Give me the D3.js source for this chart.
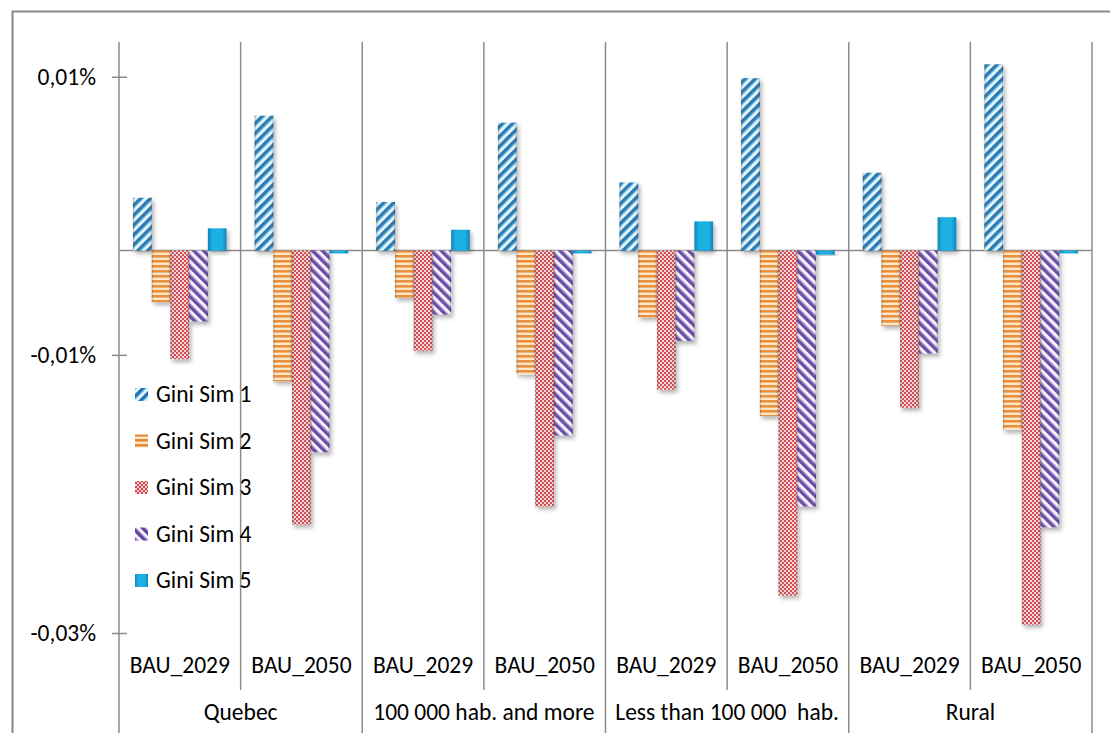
<!DOCTYPE html>
<html>
<head>
<meta charset="utf-8">
<script src="https://cdn.jsdelivr.net/npm/d3@7"></script>
<style>
  body { margin: 0; background: #fff; }
  text { font-family: Calibri, Carlito, Lato, sans-serif; fill: #000; }
</style>
</head>
<body>
<div id="chart"></div>
<script>
// data (values are in percent units, 0.01 = 0,01%)
var groups = ["Quebec", "100 000 hab. and more", "Less than 100 000  hab.", "Rural"];
var scenarios = ["BAU_2029", "BAU_2050"];
var series = ["Gini Sim 1", "Gini Sim 2", "Gini Sim 3", "Gini Sim 4", "Gini Sim 5"];

var sim1 = [0.0038, 0.0097, 0.0035, 0.0092, 0.0049, 0.0124, 0.0056, 0.0134];
var sim2 = [-0.0037, -0.0094, -0.0034, -0.0089, -0.0048, -0.0119, -0.0054, -0.0129];
var sim3 = [-0.0078, -0.0197, -0.0072, -0.0184, -0.0100, -0.0248, -0.0113, -0.0269];
var sim4 = [-0.0051, -0.0145, -0.0046, -0.0133, -0.0065, -0.0184, -0.0074, -0.0199];
var sim5 = [0.0016, -0.0002, 0.0015, -0.0002, 0.0021, -0.0003, 0.0024, -0.0002];

var tickValues = [0.0125, -0.0075, -0.0275];
var tickLabels = ["0,01%", "-0,01%", "-0,03%"];

var allSims = [sim1, sim2, sim3, sim4, sim5];

var width = 1110, height = 733;
var plotLeft = 119, plotRight = 1092, plotTop = 42, plotBottom = 633;
var fontSize = "23.5px";

var svg = d3.select("#chart")
  .append("svg")
  .attr("width", width)
  .attr("height", height);

var defs = svg.append("defs");

// stripes "/" for sim 1
var p1 = defs.append("pattern")
  .attr("id", "pat1")
  .attr("patternUnits", "userSpaceOnUse")
  .attr("width", 7).attr("height", 7)
  .attr("patternTransform", "rotate(45)");
p1.append("rect").attr("width", 7).attr("height", 7).attr("fill", "#e6f7fd");
p1.append("rect").attr("x", 0).attr("width", 3).attr("height", 7).attr("fill", "#2572aa");
p1.append("rect").attr("x", 3).attr("width", 1.2).attr("height", 7).attr("fill", "#5ab8e4");

// horizontal stripes for sim 2
var p2 = defs.append("pattern")
  .attr("id", "pat2")
  .attr("patternUnits", "userSpaceOnUse")
  .attr("width", 6).attr("height", 5);
p2.append("rect").attr("width", 6).attr("height", 5).attr("fill", "#fde6c6");
p2.append("rect").attr("y", 0).attr("width", 6).attr("height", 2.6).attr("fill", "#e88a35");

// checker for sim 3
var p3 = defs.append("pattern")
  .attr("id", "pat3")
  .attr("patternUnits", "userSpaceOnUse")
  .attr("width", 4).attr("height", 4);
p3.append("rect").attr("width", 4).attr("height", 4).attr("fill", "#f7d2d3");
p3.append("rect").attr("width", 2).attr("height", 2).attr("fill", "#cf4650");
p3.append("rect").attr("x", 2).attr("y", 2).attr("width", 2).attr("height", 2).attr("fill", "#cf4650");

// stripes "\" for sim 4
var p4 = defs.append("pattern")
  .attr("id", "pat4")
  .attr("patternUnits", "userSpaceOnUse")
  .attr("width", 7).attr("height", 7)
  .attr("patternTransform", "rotate(-45)");
p4.append("rect").attr("width", 7).attr("height", 7).attr("fill", "#f8f4fd");
p4.append("rect").attr("x", 0).attr("width", 3).attr("height", 7).attr("fill", "#6246a0");
p4.append("rect").attr("x", 3).attr("width", 1.2).attr("height", 7).attr("fill", "#a890d4");

// solid cyan with bevel for sim 5
var g5 = defs.append("linearGradient")
  .attr("id", "pat5")
  .attr("x1", "0").attr("x2", "1").attr("y1", "0").attr("y2", "0");
g5.append("stop").attr("offset", "0%").attr("stop-color", "#0f86b8");
g5.append("stop").attr("offset", "25%").attr("stop-color", "#1fb0e3");
g5.append("stop").attr("offset", "75%").attr("stop-color", "#1fb0e3");
g5.append("stop").attr("offset", "100%").attr("stop-color", "#0f86b8");

// bevel overlay on patterned bars
var bevel = defs.append("linearGradient")
  .attr("id", "bevel")
  .attr("x1", "0").attr("x2", "1").attr("y1", "0").attr("y2", "0");
bevel.append("stop").attr("offset", "0%").attr("stop-color", "#000").attr("stop-opacity", 0.25);
bevel.append("stop").attr("offset", "15%").attr("stop-color", "#fff").attr("stop-opacity", 0.05);
bevel.append("stop").attr("offset", "85%").attr("stop-color", "#fff").attr("stop-opacity", 0.05);
bevel.append("stop").attr("offset", "100%").attr("stop-color", "#000").attr("stop-opacity", 0.25);

var shadow = defs.append("filter")
  .attr("id", "shadow")
  .attr("x", "-50%").attr("y", "-20%").attr("width", "200%").attr("height", "140%");
shadow.append("feDropShadow")
  .attr("dx", 2).attr("dy", 3)
  .attr("stdDeviation", 2)
  .attr("flood-color", "#000")
  .attr("flood-opacity", 0.3);

var fills = ["url(#pat1)", "url(#pat2)", "url(#pat3)", "url(#pat4)", "url(#pat5)"];

// chart frame (only top and left edges visible in the picture)
svg.append("rect")
  .attr("x", 12.5).attr("y", 11.5)
  .attr("width", 1200).attr("height", 800)
  .attr("fill", "none")
  .attr("stroke", "#878787")
  .attr("stroke-width", 2);

// categories: one per group x scenario
var cats = [];
groups.forEach(function(g) {
  scenarios.forEach(function(s) { cats.push({group: g, scen: s}); });
});

var x = d3.scaleBand()
  .domain(d3.range(cats.length))
  .range([plotLeft, plotRight])
  .padding(0);

var xs = d3.scaleBand()
  .domain(series)
  .range([0, x.bandwidth()])
  .paddingInner(0)
  .paddingOuter(0.75);

var y = d3.scaleLinear()
  .domain([-0.0275, 0.015])
  .range([plotBottom, plotTop]);

// category separators
var seps = d3.range(cats.length + 1);
svg.selectAll(".sep")
  .data(seps)
  .enter()
  .append("line")
    .attr("class", "sep")
    .attr("x1", function(d) { return d == cats.length ? plotRight : x(d); })
    .attr("x2", function(d) { return d == cats.length ? plotRight : x(d); })
    .attr("y1", plotTop)
    .attr("y2", function(d) { return d % 2 == 0 ? height : 690; })
    .attr("stroke", "#8c8c8c")
    .attr("stroke-width", 1.5);

// y axis
var yAxis = svg.append("g")
  .attr("transform", "translate(" + plotLeft + ",0)")
  .call(d3.axisLeft(y)
    .tickValues(tickValues)
    .tickSize(0)
    .tickPadding(23)
    .tickFormat(function(d, i) { return tickLabels[i]; }));
yAxis.select(".domain").remove();
yAxis.selectAll(".tick line")
  .attr("x1", -7).attr("x2", 8)
  .attr("stroke", "#8c8c8c")
  .attr("stroke-width", 1.5);
yAxis.selectAll(".tick text")
  .style("font-size", fontSize)
  .style("font-family", "Calibri, Carlito, Lato, sans-serif");

// zero line
svg.append("line")
  .attr("x1", plotLeft).attr("x2", plotRight)
  .attr("y1", y(0)).attr("y2", y(0))
  .attr("stroke", "#8c8c8c")
  .attr("stroke-width", 1.5);

// bars
series.forEach(function(name, si) {
  var vals = allSims[si];
  var bars = svg.append("g").attr("class", "series" + (si + 1));
  bars.selectAll("rect.bar")
    .data(vals)
    .enter()
    .append("rect")
      .attr("class", "bar")
      .attr("x", function(d, i) { return x(i) + xs(name); })
      .attr("y", function(d) { return y(Math.max(0, d)); })
      .attr("width", xs.bandwidth())
      .attr("height", function(d) { return Math.abs(y(d) - y(0)); })
      .attr("fill", fills[si])
      .attr("filter", "url(#shadow)");
  if (si < 4) {
    bars.selectAll("rect.bev")
      .data(vals)
      .enter()
      .append("rect")
        .attr("class", "bev")
        .attr("x", function(d, i) { return x(i) + xs(name); })
        .attr("y", function(d) { return y(Math.max(0, d)); })
        .attr("width", xs.bandwidth())
        .attr("height", function(d) { return Math.abs(y(d) - y(0)); })
        .attr("fill", "url(#bevel)");
  }
});

// category labels
svg.selectAll(".scen")
  .data(cats)
  .enter()
  .append("text")
    .attr("class", "scen")
    .attr("x", function(d, i) { return x(i) + x.bandwidth() / 2; })
    .attr("y", 673)
    .attr("text-anchor", "middle")
    .style("font-size", fontSize)
    .text(function(d) { return d.scen; });

svg.selectAll(".grp")
  .data(groups)
  .enter()
  .append("text")
    .attr("class", "grp")
    .attr("x", function(d, i) { return x(i * 2) + x.bandwidth(); })
    .attr("y", 720)
    .attr("text-anchor", "middle")
    .style("font-size", fontSize)
    .style("white-space", "pre")
    .text(function(d) { return d; });

// legend
var legend = svg.append("g")
  .attr("class", "legend")
  .attr("transform", "translate(135,394)");

legend.selectAll("rect")
  .data(series)
  .enter()
  .append("rect")
    .attr("x", 0)
    .attr("y", function(d, i) { return i * 46.5 - 6; })
    .attr("width", 13)
    .attr("height", 13)
    .attr("fill", function(d, i) { return fills[i]; });

legend.selectAll("text")
  .data(series)
  .enter()
  .append("text")
    .attr("x", 21)
    .attr("y", function(d, i) { return i * 46.5 + 8; })
    .style("font-size", fontSize)
    .text(function(d) { return d; });
</script>
</body>
</html>
